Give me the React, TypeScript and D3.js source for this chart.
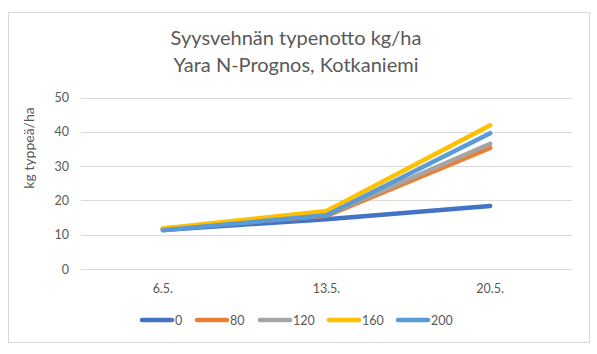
import React from "react";
import * as d3 from "d3";

const categories = ["6.5.", "13.5.", "20.5."];
const seriesNames = ["0", "80", "120", "160", "200"];
const s0 = [11.4, 14.5, 18.4];
const s80 = [11.7, 15.5, 35.3];
const s120 = [11.8, 15.8, 36.5];
const s160 = [11.8, 16.9, 41.9];
const s200 = [11.3, 15.7, 39.6];
const seriesValues = [s0, s80, s120, s160, s200];
const colors = ["#4472C4", "#ED7D31", "#A5A5A5", "#FFC000", "#5B9BD5"];
const yTicks = [0, 10, 20, 30, 40, 50];

const W = 597, H = 354;
const font = "Lato, 'Open Sans', sans-serif";

export default function App() {
  const x = d3.scaleBand().domain(categories).range([81, 572]);
  const y = d3.scaleLinear().domain([0, 50]).range([269, 97.5]);
  const line = d3.line<number>()
    .x((_, i) => (x(categories[i]) as number) + x.bandwidth() / 2)
    .y((d) => y(d));
  const legendX = [140, 195, 258, 327, 396];
  return (
    <svg width={W} height={H} style={{ position: "absolute", left: 0, top: 0 }}>
      <rect x={0} y={0} width={W} height={H} fill="#fff" />
      <rect x={8.5} y={12.5} width={581} height={330} fill="#fff" stroke="#d9d9d9" />
      <text x={296} y={45} textAnchor="middle" fontFamily={font} fontSize={20} fill="#595959">Syysvehnän typenotto kg/ha</text>
      <text x={296} y={72} textAnchor="middle" fontFamily={font} fontSize={20} fill="#595959">Yara N-Prognos, Kotkaniemi</text>
      {yTicks.map((t) => (
        <g key={t}>
          <line x1={81} x2={572} y1={Math.round(y(t)) + 0.5} y2={Math.round(y(t)) + 0.5} stroke="#d9d9d9" />
          <text x={69} y={y(t) + 4.5} textAnchor="end" fontFamily={font} fontSize={12.5} fill="#595959">{t}</text>
        </g>
      ))}
      <text transform={`translate(34,148) rotate(-90)`} textAnchor="middle" fontFamily={font} fontSize={14} fill="#595959">kg typpeä/ha</text>
      {categories.map((c) => (
        <text key={c} x={(x(c) as number) + x.bandwidth() / 2} y={292.5} textAnchor="middle" fontFamily={font} fontSize={12.5} fill="#595959">{c}</text>
      ))}
      {seriesValues.map((vals, i) => (
        <path key={i} d={line(vals) || ""} fill="none" stroke={colors[i]} strokeWidth={4.5} strokeLinejoin="round" strokeLinecap="round" />
      ))}
      {seriesNames.map((n, i) => (
        <g key={n}>
          <line x1={legendX[i] + 2} x2={legendX[i] + 32} y1={320} y2={320} stroke={colors[i]} strokeWidth={4.5} strokeLinecap="round" />
          <text x={legendX[i] + 35} y={324.5} fontFamily={font} fontSize={12.5} fill="#595959">{n}</text>
        </g>
      ))}
    </svg>
  );
}
